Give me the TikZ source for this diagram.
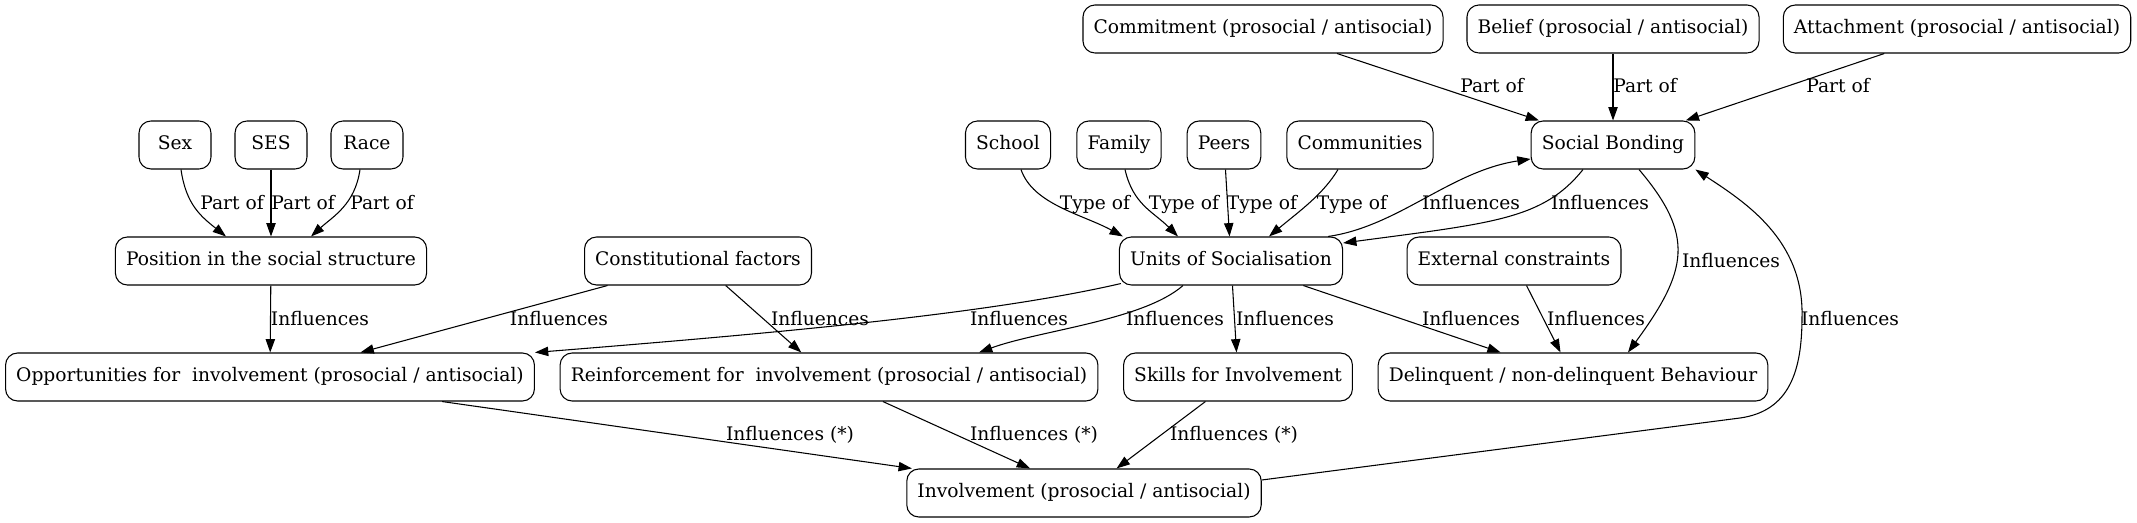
\documentclass[tikz,border=0pt]{standalone}
\usepackage{fontspec}
\setmainfont{DejaVu Serif}
\usetikzlibrary{arrows.meta,calc}
\tikzset{
    rounded-box/.style = {draw=black, fill=white, line width=0.8pt, rectangle, rounded corners=9pt, minimum width=54pt, minimum height=36pt, inner xsep=8pt, text height=10pt, text depth=3pt, font=\fontsize{14}{17}\selectfont},
    edge-label/.style = {inner sep=0pt, yshift=-2pt, text height=10pt, text depth=3pt, font=\fontsize{14}{17}\selectfont},
    link/.style = {draw=black, line width=0.8pt, -{Triangle[length=10pt,width=7pt]}},
}

\begin{document}
\begin{tikzpicture}[x=0.75pt, y=-0.75pt]
\useasboundingbox (0,0) rectangle (2137,523);

\node[rounded-box] (commitment) at (1263,29) {Commitment (prosocial / antisocial)};
\node[rounded-box] (belief) at (1613,29) {Belief (prosocial / antisocial)};
\node[rounded-box] (attachment) at (1957,29) {Attachment (prosocial / antisocial)};

\node[rounded-box] (sex) at (175,145) {Sex};
\node[rounded-box] (ses) at (271,145) {SES};
\node[rounded-box] (race) at (367,145) {Race};
\node[rounded-box] (school) at (1008,145) {School};
\node[rounded-box] (family) at (1119,145) {Family};
\node[rounded-box] (peers) at (1224,145) {Peers};
\node[rounded-box] (communities) at (1360,145) {Communities};
\node[rounded-box] (bonding) at (1613,145) {Social Bonding};

\node[rounded-box] (position) at (271,261) {Position in the social structure};
\node[rounded-box] (constitutional) at (698,261) {Constitutional factors};
\node[rounded-box] (units) at (1231,261) {Units of Socialisation};
\node[rounded-box] (external) at (1514,261) {External constraints};

\node[rounded-box] (opportunities) at (270,377) {Opportunities for~~involvement (prosocial / antisocial)};
\node[rounded-box] (reinforcement) at (829,377) {Reinforcement for~~involvement (prosocial / antisocial)};
\node[rounded-box] (skills) at (1238,377) {Skills for Involvement};
\node[rounded-box] (delinquent) at (1573,377) {Delinquent / non-delinquent Behaviour};

\node[rounded-box] (involvement) at (1084,493) {Involvement (prosocial / antisocial)};

% position in the social structure
\draw[link] ($(sex.south)+(6,0)$) .. controls +(5,35) and +(-25,-20) .. ($(position.north)+(-45,0)$);
\node[edge-label] (sex-part) at (232,202) {Part of};
\draw[link] (ses) -- (position);
\node[edge-label] (ses-part) at (303,202) {Part of};
\draw[link] ($(race.south)+(-7,0)$) .. controls +(-5,35) and +(22,-20) .. ($(position.north)+(40,0)$);
\node[edge-label] (race-part) at (382,202) {Part of};
\draw[link] (position) -- (opportunities);
\node[edge-label] (position-infl) at (320,318) {Influences};

\draw[link] (constitutional) -- (opportunities);
\node[edge-label] (constitutional-opp) at (559,318) {Influences};
\draw[link] (constitutional) -- (reinforcement);
\node[edge-label] (constitutional-reinf) at (820,318) {Influences};

% units of socialisation
\draw[link] ($(school.south)+(13,0)$) .. controls +(12,35) and +(-40,-22) .. ($(units.north west)+(4,0)$);
\node[edge-label] (school-type) at (1095,202) {Type of};
\draw[link] ($(family.south)+(6,0)$) .. controls +(8,35) and +(-25,-25) .. ($(units.north)+(-53,0)$);
\node[edge-label] (family-type) at (1184,202) {Type of};
\draw[link] (peers) -- (units);
\node[edge-label] (peers-type) at (1262,202) {Type of};
\draw[link] ($(communities.south)+(-22,0)$) .. controls +(-15,25) and +(30,-25) .. ($(units.north)+(38,0)$);
\node[edge-label] (communities-type) at (1352,202) {Type of};

\draw[link] ($(units.south west)+(2,-2)$) .. controls +(-130,30) and +(250,-20) .. (opportunities.north east);
\node[edge-label] (units-opp) at (1019,318) {Influences};
\draw[link] ($(units.south)+(-48,0)$) .. controls +(-40,35) and +(60,-22) .. ($(reinforcement.north)+(150,0)$);
\node[edge-label] (units-reinf) at (1175,318) {Influences};
\draw[link] (units) -- (skills);
\node[edge-label] (units-skills) at (1285,318) {Influences};
\draw[link] (units) -- (delinquent);
\node[edge-label] (units-delinq) at (1471,318) {Influences};
\draw[link] (external) -- (delinquent);
\node[edge-label] (external-delinq) at (1596,318) {Influences};

% social bonding
\draw[link] (commitment) -- (bonding);
\node[edge-label] (commitment-part) at (1492,85) {Part of};
\draw[link] (belief) -- (bonding);
\node[edge-label] (belief-part) at (1645,85) {Part of};
\draw[link] (attachment) -- (bonding);
\node[edge-label] (attachment-part) at (1838,85) {Part of};

\draw[link] ($(units.north east)+(-15,0)$) .. controls +(70,-10) and +(-80,12) .. ($(bonding.west)+(0,14)$);
\node[edge-label] (units-bonding) at (1471,202) {Influences};
\draw[link] ($(bonding.south)+(-30,0)$) .. controls +(-40,50) and +(150,-20) .. ($(units.east)+(0,-18)$);
\node[edge-label] (bonding-units) at (1600,202) {Influences};
\draw[link] ($(bonding.south)+(26,0)$) .. controls +(56,66) and +(60,-82) .. ($(delinquent.north)+(55,0)$);
\node[edge-label] (bonding-delinq) at (1731,260) {Influences};

% involvement
\draw[link] (opportunities) -- (involvement);
\node[edge-label] (opp-inv) at (790,433) {Influences (*)};
\draw[link] (reinforcement) -- (involvement);
\node[edge-label] (reinf-inv) at (1034,433) {Influences (*)};
\draw[link] (skills) -- (involvement);
\node[edge-label] (skills-inv) at (1234,433) {Influences (*)};

\draw[link] ($(involvement.east)+(0,-13)$) -- (1740,418) .. controls (1790,411) and (1802,370) .. (1802,317) .. controls (1804,240) and (1745,202) .. (bonding.south east);
\node[edge-label] (inv-bonding) at (1850,318) {Influences};
\end{tikzpicture}
\end{document}
